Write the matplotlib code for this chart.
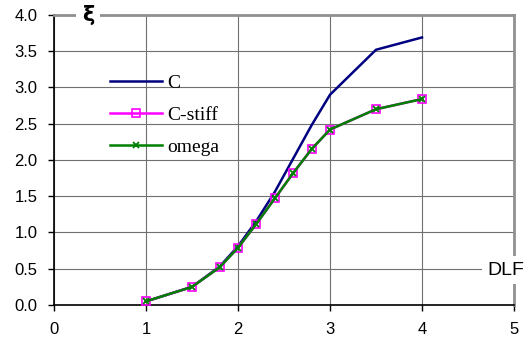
import matplotlib
matplotlib.use("Agg")
import matplotlib.pyplot as plt

# DLF values and response for the three models
dlf = [1.0, 1.5, 1.8, 2.0, 2.2, 2.4, 2.6, 2.8, 3.0, 3.5, 4.0]
xi_c = [0.05, 0.25, 0.53, 0.81, 1.16, 1.56, 2.02, 2.48, 2.90, 3.52, 3.69]
xi_cstiff = [0.05, 0.25, 0.52, 0.79, 1.12, 1.47, 1.82, 2.15, 2.42, 2.70, 2.84]
xi_omega = [0.05, 0.25, 0.52, 0.79, 1.12, 1.47, 1.82, 2.15, 2.42, 2.70, 2.84]

x_ticks = [0, 1, 2, 3, 4, 5]
y_ticks = [0.0, 0.5, 1.0, 1.5, 2.0, 2.5, 3.0, 3.5, 4.0]

fig = plt.figure(figsize=(5.25, 3.4), dpi=100)
ax = fig.add_axes([0.103, 0.103, 0.876, 0.853])

ax.plot(dlf, xi_c, color="#000080", lw=1.8, label="C", zorder=3)
ax.plot(dlf, xi_cstiff, color="#FF00FF", lw=1.8, marker="s", ms=6,
        mfc="none", mec="#FF00FF", mew=1.2, label="C-stiff", zorder=3)
ax.plot(dlf, xi_omega, color="#008000", lw=1.8, marker="x", ms=5,
        mec="#008000", mew=1.3, label="omega", zorder=4)

ax.set_xlim(0, 5)
ax.set_ylim(0, 4)
ax.set_xticks(x_ticks)
ax.set_yticks(y_ticks)
ax.set_xticklabels([str(v) for v in x_ticks])
ax.set_yticklabels([f"{v:.1f}" for v in y_ticks])
ax.grid(True, color="#707070", lw=0.8)
ax.set_axisbelow(True)

for lab in ax.get_xticklabels() + ax.get_yticklabels():
    lab.set_fontfamily("Liberation Sans")
    lab.set_fontsize(12)
ax.tick_params(direction="out", length=4, width=1, color="black", pad=8)

ax.spines["left"].set_color("black")
ax.spines["bottom"].set_color("black")
ax.spines["left"].set_linewidth(1.2)
ax.spines["bottom"].set_linewidth(1.2)
ax.spines["top"].set_color("#909090")
ax.spines["right"].set_color("#909090")
ax.spines["top"].set_linewidth(2)
ax.spines["right"].set_linewidth(2)

ax.text(0.37, 4.0, "ξ", fontsize=15, fontweight="bold", ha="center", va="center",
        family="DejaVu Sans",
        bbox=dict(facecolor="white", edgecolor="none", pad=4), zorder=5)
ax.text(4.71, 0.48, "DLF", fontsize=14, ha="left", va="center",
        family="Liberation Sans", clip_on=False,
        bbox=dict(facecolor="white", edgecolor="none", pad=4), zorder=5)

leg = ax.legend(loc="upper left", bbox_to_anchor=(0.209, 0.782),
                bbox_transform=fig.transFigure, frameon=False,
                prop={"family": "Liberation Serif", "size": 14},
                handlelength=2.7, handletextpad=0.25, labelspacing=0.75,
                numpoints=1, borderpad=0, borderaxespad=0)

fig.savefig("out.png", dpi=100)
